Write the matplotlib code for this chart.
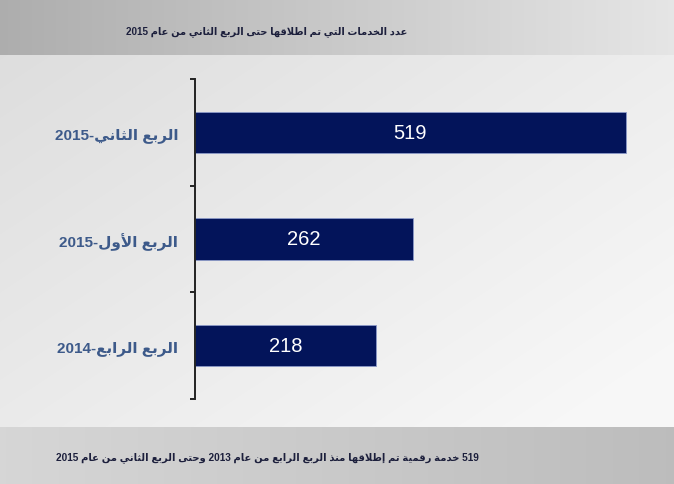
import re
import numpy as np
import matplotlib
matplotlib.use("Agg")
import matplotlib.pyplot as plt

# quarters, bottom to top
quarters = ["الربع الرابع-2014", "الربع الأول-2015", "الربع الثاني-2015"]
services = [218, 262, 519]

title_text = "عدد الخدمات التي تم اطلاقها حتى الربع الثاني من عام 2015"
footer_text = "519 خدمة رقمية تم إطلاقها منذ الربع الرابع من عام 2013 وحتى الربع الثاني من عام 2015"

# matplotlib has no Arabic shaping, so map letters to presentation forms by hand
DUAL = {'ب': 0xFE8F, 'ت': 0xFE95, 'ث': 0xFE99, 'ج': 0xFE9D, 'ح': 0xFEA1, 'خ': 0xFEA5,
        'س': 0xFEB1, 'ش': 0xFEB5, 'ص': 0xFEB9, 'ض': 0xFEBD, 'ط': 0xFEC1, 'ظ': 0xFEC5,
        'ع': 0xFEC9, 'غ': 0xFECD, 'ف': 0xFED1, 'ق': 0xFED5, 'ك': 0xFED9, 'ل': 0xFEDD,
        'م': 0xFEE1, 'ن': 0xFEE5, 'ه': 0xFEE9, 'ي': 0xFEF1}
RIGHT = {'ا': 0xFE8D, 'أ': 0xFE83, 'إ': 0xFE87, 'آ': 0xFE81, 'ة': 0xFE93, 'د': 0xFEA9,
         'ذ': 0xFEAB, 'ر': 0xFEAD, 'ز': 0xFEAF, 'و': 0xFEED, 'ى': 0xFEEF}
LAM_ALEF = {'ا': 0xFEFB, 'أ': 0xFEF7, 'إ': 0xFEF9, 'آ': 0xFEF5}


def shape(s):
    units = []
    i = 0
    while i < len(s):
        c = s[i]
        if c == 'ل' and i + 1 < len(s) and s[i + 1] in LAM_ALEF:
            units.append(('R', LAM_ALEF[s[i + 1]]))
            i += 2
            continue
        if c in DUAL:
            units.append(('D', DUAL[c]))
        elif c in RIGHT:
            units.append(('R', RIGHT[c]))
        else:
            units.append(('N', c))
        i += 1
    out = []
    for k, (t, v) in enumerate(units):
        if t == 'N':
            out.append(v)
            continue
        jp = k > 0 and units[k - 1][0] == 'D'
        jn = t == 'D' and k + 1 < len(units) and units[k + 1][0] != 'N'
        if t == 'D':
            off = 3 if (jp and jn) else 1 if jp else 2 if jn else 0
        else:
            off = 1 if jp else 0
        out.append(chr(v + off))
    return ''.join(out)


def rtl(s):
    runs = re.findall(r'\d+|\D+', shape(s))
    return ''.join(r if r.isdigit() else r[::-1] for r in runs[::-1])


FONTS = ['Liberation Sans', 'DejaVu Sans']
W, H = 674, 485
fig = plt.figure(figsize=(W / 100, H / 100), dpi=100)

# backdrop: grey header/footer bands and a pale panel
bg = fig.add_axes([0, 0, 1, 1], zorder=0)
xs = np.linspace(0, 1, W)
img = np.zeros((H, W))
top, foot = 56, 428
img[:top] = 0.68 + 0.22 * xs
ys = np.linspace(0, 1, foot - top)[:, None]
img[top:foot] = np.clip(0.87 + 0.06 * xs[None, :] + 0.05 * ys, 0, 0.97)
img[foot:] = 0.84 - 0.10 * xs
bg.imshow(np.dstack([img] * 3), extent=(0, W, H, 0), aspect='auto')
bg.set_xlim(0, W)
bg.set_ylim(H, 0)
bg.axis('off')

bg.text(267, 32, rtl(title_text), ha='center', va='center', fontsize=7.1,
        fontweight='bold', color='#1c1f3c', family=FONTS)
bg.text(267, 458, rtl(footer_text), ha='center', va='center', fontsize=7.2,
        fontweight='bold', color='#1c1f3c', family=FONTS)

ax = fig.add_axes([195 / W, 1 - 400 / H, 465 / W, 320 / H], zorder=1)
ax.patch.set_alpha(0)
pos = np.arange(len(quarters))
bars = ax.barh(pos, services, height=0.39, color='#03145a',
               edgecolor='#8c9ac8', linewidth=0.6)
for b, v in zip(bars, services):
    ax.text(b.get_width() / 2, b.get_y() + b.get_height() / 2, str(v),
            ha='center', va='center', color='white', fontsize=14.5, family=FONTS)

ax.set_xlim(0, 465 / (431 / 519))
ax.set_ylim(-0.5, 2.5)
ax.set_yticks(pos)
ax.set_yticklabels([rtl(q) for q in quarters], color='#3d5a8a', fontsize=11,
                   fontweight='bold', family=FONTS)
ax.tick_params(axis='y', length=0, pad=12)
ax.set_yticks([-0.5, 0.5, 1.5, 2.5], minor=True)
ax.tick_params(axis='y', which='minor', length=3.5, width=1.4, color='#222222')
ax.set_xticks([])
for side in ['top', 'right', 'bottom']:
    ax.spines[side].set_visible(False)
ax.spines['left'].set_color('#222222')
ax.spines['left'].set_linewidth(1.4)

fig.savefig('out.png', dpi=100)
